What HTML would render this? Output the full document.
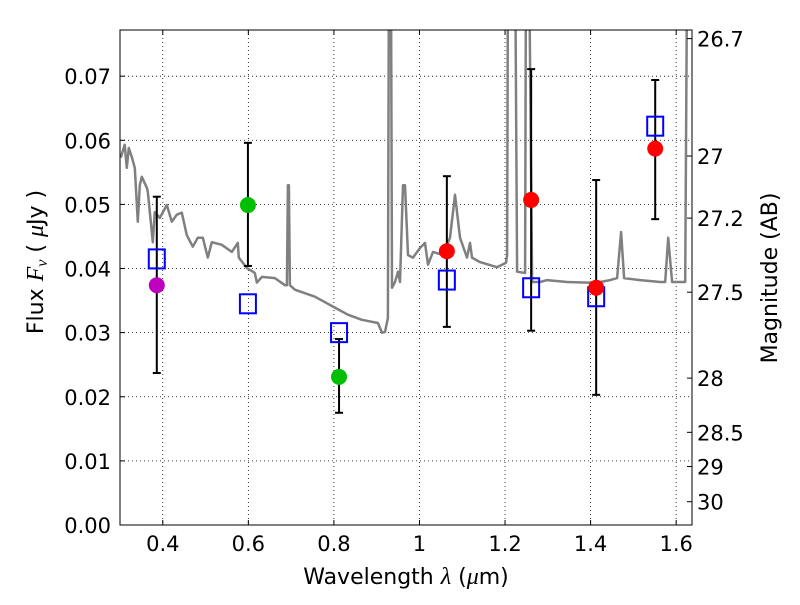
<!DOCTYPE html>
<html><head><meta charset="utf-8"><style>
html,body{margin:0;padding:0;background:#fff;}
svg text{font-family:"DejaVu Sans","Liberation Sans",sans-serif;}
</style></head><body>
<svg id="chart" width="800" height="600" viewBox="0 0 800 600" xmlns="http://www.w3.org/2000/svg">
<defs><clipPath id="plotclip"><rect x="120" y="30" width="572" height="495"/></clipPath></defs>
<rect x="0" y="0" width="800" height="600" fill="#fff"/>
<g id="grid"></g>
<g id="spec" clip-path="url(#plotclip)"></g>
<g id="marks" clip-path="url(#plotclip)"></g>
<rect x="120" y="30" width="572" height="495" fill="none" stroke="#000" stroke-width="1"/>
<g id="axes"></g>
<text x="406" y="584" font-size="22" text-anchor="middle">Wavelength  <tspan font-style="italic" font-family="Liberation Serif,serif" font-size="24">λ</tspan> (<tspan font-style="italic" font-family="Liberation Serif,serif" font-size="24">μ</tspan>m)</text>
<text transform="translate(43,262) rotate(-90)" font-size="22" text-anchor="middle">Flux  <tspan font-style="italic" font-family="Liberation Serif,serif" font-size="24">F<tspan font-size="16" dy="4">ν</tspan></tspan><tspan dy="-4">  ( </tspan><tspan font-style="italic" font-family="Liberation Serif,serif" font-size="24">μ</tspan>Jy )</text>
<text transform="translate(777,278) rotate(-90)" font-size="22" text-anchor="middle">Magnitude (AB)</text>
</svg>
<script>
const xTicks=[0.4,0.6,0.8,1.0,1.2,1.4,1.6];
const xTickLabels=["0.4","0.6","0.8","1","1.2","1.4","1.6"];
const yTicks=[0,0.01,0.02,0.03,0.04,0.05,0.06,0.07];
const yTickLabels=["0.00","0.01","0.02","0.03","0.04","0.05","0.06","0.07"];
const magTicks=[26.7,27,27.2,27.5,28,28.5,29,30];
const magTickLabels=["26.7","27","27.2","27.5","28","28.5","29","30"];
const specWave=[0.3018,0.3111,0.3158,0.3205,0.3275,0.3345,0.3415,0.3462,0.3509,0.3626,0.3649,0.3766,0.3813,0.3930,0.4094,0.4211,0.4327,0.4444,0.4561,0.4702,0.4819,0.4936,0.5053,0.5146,0.5380,0.5614,0.5754,0.5778,0.5965,0.6152,0.6199,0.6316,0.6620,0.6854,0.690,0.6924,0.6947,0.6971,0.7088,0.7556,0.8023,0.8327,0.8655,0.9029,0.9123,0.9193,0.9263,0.9287,0.9333,0.9357,0.9427,0.9497,0.9544,0.9614,0.9661,0.9731,0.9848,1.0012,1.0129,1.0199,1.0316,1.0550,1.0713,1.0830,1.0947,1.1111,1.1181,1.1228,1.1415,1.1813,1.2023,1.2047,1.2070,1.2234,1.2281,1.2468,1.2491,1.2561,1.2632,1.2819,1.2982,1.3450,1.3918,1.4222,1.4456,1.4620,1.4713,1.4784,1.5158,1.5626,1.5743,1.5813,1.5906,1.6211,1.6257,1.6327];
const specFlux=[0.0573,0.0593,0.0557,0.0588,0.0574,0.0557,0.0473,0.0530,0.0543,0.0526,0.0520,0.0441,0.0488,0.0479,0.0499,0.0473,0.0484,0.0487,0.0452,0.0434,0.0448,0.0448,0.0417,0.0441,0.0437,0.0426,0.0440,0.0417,0.0401,0.0393,0.0378,0.0387,0.0385,0.0374,0.0374,0.0530,0.0530,0.0374,0.0367,0.0356,0.0339,0.0328,0.0320,0.0315,0.0300,0.0301,0.0323,0.09,0.09,0.0370,0.0379,0.0395,0.0379,0.0530,0.0530,0.0421,0.0417,0.0432,0.0440,0.0406,0.0426,0.0421,0.0448,0.0515,0.0448,0.0417,0.0440,0.0417,0.0410,0.0402,0.0409,0.0421,0.09,0.09,0.0395,0.0393,0.09,0.09,0.0379,0.0379,0.0382,0.0379,0.0378,0.0379,0.0382,0.0385,0.0457,0.0385,0.0382,0.0379,0.0379,0.0448,0.0379,0.0379,0.09,0.09];
const bandWave=[0.386,0.599,0.812,1.064,1.261,1.413,1.551];
const obsFlux=[0.0374,0.0499,0.0231,0.0427,0.0507,0.0370,0.0587];
const obsColor=["#bf00bf","#00bf00","#00bf00","#ff0000","#ff0000","#ff0000","#ff0000"];
const errLow=[0.0237,0.0404,0.0175,0.0309,0.0303,0.0203,0.0477];
const errHigh=[0.0512,0.0596,0.0290,0.0544,0.0711,0.0538,0.0694];
const modelFlux=[0.0415,0.0345,0.0300,0.0382,0.0370,0.0356,0.0622];

const X0=120,X1=692,Y0=525,Y1=30,XMIN=0.3,XMAX=1.637,YMIN=0,YMAX=0.0772;
const sx=v=>X0+(v-XMIN)/(XMAX-XMIN)*(X1-X0);
const sy=v=>Y0-(v-YMIN)/(YMAX-YMIN)*(Y0-Y1);
const NS="http://www.w3.org/2000/svg";
function mk(tag,attrs,parent){const e=document.createElementNS(NS,tag);for(const k in attrs)e.setAttribute(k,attrs[k]);parent.appendChild(e);return e;}
const grid=document.getElementById('grid'),axes=document.getElementById('axes'),spec=document.getElementById('spec'),marks=document.getElementById('marks');

xTicks.forEach((t,i)=>{const x=sx(t);
 const g=mk('line',{x1:x,x2:x,y1:Y1,y2:Y0,stroke:'#000','stroke-dasharray':'1,3','stroke-width':0.8},grid);
 
 
 mk('line',{x1:x,x2:x,y1:Y0,y2:Y0-5,stroke:'#000'},axes);
 mk('line',{x1:x,x2:x,y1:Y1,y2:Y1+5,stroke:'#000'},axes);
 const tx=mk('text',{x:x,y:Y0+26,'font-size':21,'text-anchor':'middle'},axes);tx.textContent=xTickLabels[i];
 
 
});
yTicks.forEach((t,i)=>{const y=sy(t);
 const g=mk('line',{x1:X0,x2:X1,y1:y,y2:y,stroke:'#000','stroke-dasharray':'1,3','stroke-width':0.8},grid);
 
 
 mk('line',{x1:X0,x2:X0+5,y1:y,y2:y,stroke:'#000'},axes);
 const tx=mk('text',{x:X0-9,y:y+8,'font-size':21,'text-anchor':'end'},axes);tx.textContent=yTickLabels[i];
 
 
});
magTicks.forEach((m,i)=>{const f=Math.pow(10,(23.9-m)/2.5);const y=Math.max(sy(f),Y1+8);
 mk('line',{x1:X1-5,x2:X1,y1:sy(f),y2:sy(f),stroke:'#000'},axes);
 const tx=mk('text',{x:X1+5,y:y+8,'font-size':21},axes);tx.textContent=magTickLabels[i];
 
 
});
const pts=specWave.map((w,i)=>sx(w).toFixed(1)+','+sy(specFlux[i]).toFixed(1)).join(' ');
const pl=mk('polyline',{points:pts,fill:'none',stroke:'#808080','stroke-width':2.5,'stroke-linejoin':'round'},spec);


bandWave.forEach((w,i)=>{const x=sx(w);
 const e=mk('line',{x1:x,x2:x,y1:sy(errLow[i]),y2:sy(errHigh[i]),stroke:'#000','stroke-width':2},marks);
 
 
 mk('line',{x1:x-4,x2:x+4,y1:sy(errLow[i]),y2:sy(errLow[i]),stroke:'#000','stroke-width':2},marks);
 mk('line',{x1:x-4,x2:x+4,y1:sy(errHigh[i]),y2:sy(errHigh[i]),stroke:'#000','stroke-width':2},marks);
 const s=mk('rect',{x:x-8,y:sy(modelFlux[i])-9.5,width:16,height:19,fill:'none',stroke:'#0000ff','stroke-width':2},marks);
 
 
 const c=mk('circle',{cx:x,cy:sy(obsFlux[i]),r:8,fill:obsColor[i]},marks);
 
 
});
</script>
</body></html>
